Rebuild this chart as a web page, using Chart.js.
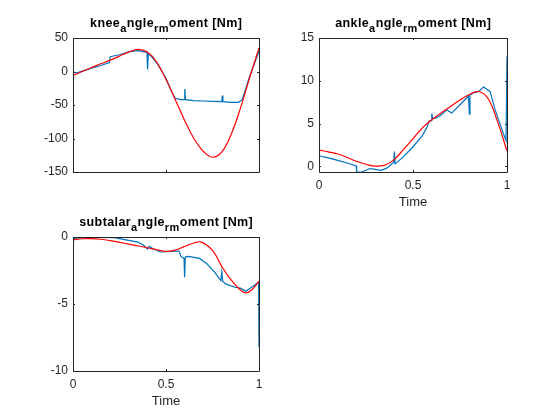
<!DOCTYPE html>
<html><head><meta charset="utf-8">
<script src="https://cdn.jsdelivr.net/npm/chart.js@4"></script>
<style>
html,body{margin:0;padding:0;background:#fff;}
#fig{position:relative;width:560px;height:420px;background:#fff;overflow:hidden;}
canvas{position:absolute;}
</style></head><body>
<div id="fig">
<canvas id="c1" width="280" height="210" style="left:0px;top:0px"></canvas>
<canvas id="c2" width="280" height="210" style="left:280px;top:0px"></canvas>
<canvas id="c3" width="280" height="210" style="left:0px;top:210px"></canvas>
</div>
<script>
// ---- data ----
const xTicks = [0, 0.5, 1];
const kneeYTicks = [-150, -100, -50, 0, 50];
const ankleYTicks = [0, 5, 10, 15];
const subYTicks = [-10, -5, 0];

const redTime = [0,0.05,0.1,0.15,0.2,0.25,0.3,0.35,0.4,0.45,0.5,0.55,0.6,0.65,0.7,0.75,0.8,0.85,0.9,0.95,1];

const kneeRed = [-6, 0, 6, 11.5, 17, 23, 29, 33, 29, 14, -12, -42, -73, -100, -119, -128, -120, -94, -55, -9, 35];
const kneeBlueTime = [0, 0.02, 0.05, 0.1, 0.15, 0.196, 0.2, 0.25, 0.3, 0.35, 0.39, 0.398, 0.401, 0.405, 0.42, 0.45, 0.5, 0.53, 0.55, 0.58, 0.598, 0.601, 0.605, 0.65, 0.7, 0.75, 0.8, 0.803, 0.806, 0.85, 0.89, 0.91, 0.95, 1];
const kneeBlue = [-1, -2, 0.5, 5, 9, 13.5, 22, 25, 29.5, 31, 29, 28, 3, 26, 23, 13, -10, -30, -40, -42, -42, -26, -42, -43.5, -44, -44.5, -45, -36, -45, -46, -46, -42, -7, 30];

const ankleRed = [1.9, 1.7, 1.45, 1.05, 0.6, 0.25, 0.03, 0.15, 0.8, 2.0, 3.25, 4.5, 5.45, 6.25, 7.0, 7.75, 8.4, 8.75, 7.9, 5.2, 1.8];
const ankleBlueTime = [0, 0.05, 0.1, 0.15, 0.198, 0.2, 0.23, 0.27, 0.3, 0.33, 0.36, 0.39, 0.398, 0.401, 0.405, 0.45, 0.5, 0.55, 0.575, 0.585, 0.597, 0.6, 0.605, 0.62, 0.65, 0.68, 0.706, 0.75, 0.795, 0.8, 0.803, 0.82, 0.85, 0.875, 0.91, 0.937, 0.973, 0.995, 1];
const ankleBlue = [1.25, 1.0, 0.7, 0.4, 0.05, -0.65, -0.65, -0.25, -0.35, -0.45, -0.2, 0.35, 0.5, 1.75, 0.3, 1.15, 2.3, 3.6, 4.6, 5.3, 5.35, 6.15, 5.6, 5.6, 6.0, 6.6, 6.23, 7.2, 8.2, 6.1, 8.3, 8.6, 8.75, 9.27, 8.76, 6.6, 4.3, 3.0, 12.85];

const subRedTime = [0,0.05,0.1,0.15,0.2,0.25,0.3,0.35,0.4,0.45,0.5,0.55,0.6,0.65,0.69,0.75,0.8,0.85,0.9,0.93,0.96,1];
const subRed = [-0.2,-0.13,-0.12,-0.17,-0.27,-0.4,-0.53,-0.67,-0.8,-0.95,-1.07,-0.98,-0.7,-0.45,-0.38,-1.0,-2.2,-3.2,-3.95,-4.17,-3.95,-3.3];
const subBlueTime = [0, 0.05, 0.1, 0.15, 0.22, 0.3, 0.35, 0.38, 0.4, 0.41, 0.43, 0.47, 0.5, 0.55, 0.57, 0.58, 0.597, 0.6, 0.604, 0.62, 0.68, 0.72, 0.76, 0.795, 0.8, 0.805, 0.82, 0.87, 0.9, 0.93, 0.96, 0.99, 0.998, 1];
const subBlue = [-0.1, -0.05, -0.02, -0.03, -0.05, -0.25, -0.38, -0.62, -0.9, -0.7, -0.88, -1.12, -1.1, -1.05, -1.05, -1.45, -1.6, -3.0, -1.5, -1.45, -1.6, -2.0, -2.6, -3.25, -2.6, -3.3, -3.5, -3.75, -3.82, -4.05, -3.75, -3.45, -3.4, -8.2];

// ---- styling ----
const FONT = "'Liberation Sans', Arial, Helvetica, sans-serif";
const AX = '#262626';
const BLUE = '#0072BD';
const RED = '#FF0000';
Chart.defaults.font.family = FONT;
Chart.defaults.color = AX;

function pts(t, v) { return t.map((x, i) => ({x: x, y: v[i]})); }

const axesBox = {
  id: 'axesBox',
  afterDatasetsDraw(chart) {
    const {ctx, chartArea: a, scales} = chart;
    const L = Math.round(a.left), R = Math.round(a.right), T = Math.round(a.top), B = Math.round(a.bottom);
    ctx.save();
    ctx.strokeStyle = AX;
    ctx.lineWidth = 1;
    ctx.beginPath();
    ctx.rect(L + 0.5, T + 0.5, R - L, B - T);
    const tl = 2;
    chart.options.plugins.axesBox.xt.forEach(v => {
      const px = Math.round(scales.x.getPixelForValue(v)) + 0.5;
      ctx.moveTo(px, B); ctx.lineTo(px, B - tl);
      ctx.moveTo(px, T); ctx.lineTo(px, T + tl);
    });
    chart.options.plugins.axesBox.yt.forEach(v => {
      const py = Math.round(scales.y.getPixelForValue(v)) + 0.5;
      ctx.moveTo(L, py); ctx.lineTo(L + tl, py);
      ctx.moveTo(R, py); ctx.lineTo(R - tl, py);
    });
    ctx.stroke();
    ctx.restore();
  }
};

const texTitle = {
  id: 'texTitle',
  afterDraw(chart) {
    const o = chart.options.plugins.texTitle;
    const {ctx, chartArea: a} = chart;
    const segs = [];
    const s = o.text;
    for (let i = 0; i < s.length; i++) {
      if (s[i] === '_' && i + 1 < s.length) { segs.push({t: s[i + 1], sub: true}); i++; }
      else segs.push({t: s[i], sub: false});
    }
    const mainF = 'bold 12.5px ' + FONT, subF = 'bold 11px ' + FONT;
    const ls = 0.4;
    ctx.save();
    let total = 0;
    segs.forEach(g => { ctx.font = g.sub ? subF : mainF; g.w = ctx.measureText(g.t).width + ls; total += g.w; });
    total -= ls;
    let x = (a.left + a.right) / 2 - total / 2;
    const base = a.top - 11;
    ctx.fillStyle = '#000';
    ctx.textBaseline = 'alphabetic';
    ctx.textAlign = 'left';
    segs.forEach(g => {
      ctx.font = g.sub ? subF : mainF;
      ctx.fillText(g.t, x, g.sub ? base + 4.5 : base);
      x += g.w;
    });
    ctx.restore();
  }
};

function makeChart(id, cfg) {
  new Chart(document.getElementById(id), {
    type: 'line',
    data: {
      datasets: [
        {data: pts(cfg.redT, cfg.red), borderColor: RED, borderWidth: 1.2, pointRadius: 0, tension: 0.4, order: 0},
        {data: pts(cfg.blueT, cfg.blue), borderColor: BLUE, borderWidth: 1.2, pointRadius: 0, tension: 0, order: 1}
      ]
    },
    options: {
      responsive: false,
      animation: false,
      events: [],
      layout: {padding: cfg.pad},
      plugins: {
        legend: {display: false},
        tooltip: {enabled: false},
        title: {display: false},
        texTitle: {text: cfg.title},
        axesBox: {xt: xTicks, yt: cfg.yTicks}
      },
      scales: {
        x: {
          type: 'linear', min: 0, max: 1,
          grid: {display: false, drawTicks: false},
          border: {display: false},
          afterBuildTicks: s => { s.ticks = xTicks.map(v => ({value: v})); },
          afterFit: s => { s.height = 38; },
          ticks: {padding: 6.5, maxRotation: 0, font: {size: 12}, color: AX,
                  callback: v => cfg.xLabels ? String(v) : ''},
          title: {display: !!cfg.xTitle, text: cfg.xTitle || '', padding: 0, color: AX, font: {size: 13}}
        },
        y: {
          type: 'linear', min: cfg.yMin, max: cfg.yMax,
          grid: {display: false, drawTicks: false},
          border: {display: false},
          afterBuildTicks: s => { s.ticks = cfg.yTicks.map(v => ({value: v})); },
          afterFit: s => { s.width = cfg.yW; },
          ticks: {padding: 5, font: {size: 12}, color: AX, callback: v => String(v)}
        }
      }
    },
    plugins: [axesBox, texTitle]
  });
}

makeChart('c1', {
  title: 'knee_angle_r_moment [Nm]',
  redT: redTime, red: kneeRed, blueT: kneeBlueTime, blue: kneeBlue,
  yMin: -150, yMax: 50, yTicks: kneeYTicks, yW: 73,
  pad: {left: 0, top: 38, right: 21, bottom: 0}, xLabels: false, xTitle: ''
});
makeChart('c2', {
  title: 'ankle_angle_r_moment [Nm]',
  redT: redTime, red: ankleRed, blueT: ankleBlueTime, blue: ankleBlue,
  yMin: -0.65, yMax: 15, yTicks: ankleYTicks, yW: 39,
  pad: {left: 0, top: 38, right: 53, bottom: 0}, xLabels: true, xTitle: 'Time'
});
makeChart('c3', {
  title: 'subtalar_angle_r_moment [Nm]',
  redT: subRedTime, red: subRed, blueT: subBlueTime, blue: subBlue,
  yMin: -10, yMax: 0, yTicks: subYTicks, yW: 73,
  pad: {left: 0, top: 27, right: 21, bottom: 11}, xLabels: true, xTitle: 'Time'
});
</script>
</body></html>
